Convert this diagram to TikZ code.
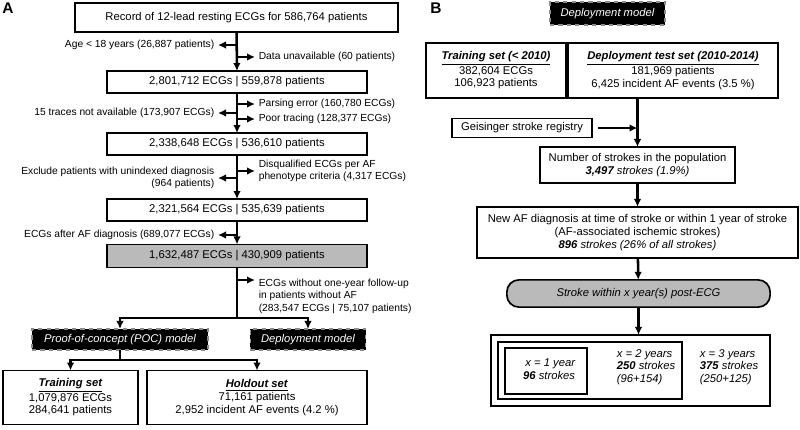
\documentclass[tikz,border=0pt]{standalone}
\usepackage{fontspec}
\setmainfont{Liberation Sans}
\usetikzlibrary{arrows.meta}
\tikzset{
  box/.style={draw, line width=1.2pt, align=center, inner sep=0pt, outer sep=0pt},
  greybox/.style={box, fill=black!27},
  modelbox/.style={fill=black, draw=black!45, dashed, line width=1pt, text=white,
    font=\itshape\fontsize{8}{9}\selectfont, inner sep=0pt, outer sep=0pt},
  note/.style={inner sep=2.5pt, font=\fontsize{7.3}{8.8}\selectfont},
  arr/.style={line width=1.8pt, -{Latex[length=2mm,width=1.9mm]}},
  link/.style={line width=1.8pt},
}
\newcommand{\uhead}[1]{\underline{\textbf{\textit{#1}}}}

\begin{document}
\begin{tikzpicture}[x=0.025cm, y=-0.025cm, font=\fontsize{8}{9}\selectfont]
\useasboundingbox (0,0) rectangle (800,429);

% A
\node[font=\bfseries\fontsize{11}{11}\selectfont] (labA) at (8,8) {A};
\node[box, minimum width=8.08cm, minimum height=0.72cm] (rec) at (236.5,17.5) {Record of 12-lead resting ECGs for 586,764 patients};
\node[box, minimum width=6.5cm, minimum height=0.55cm] (n1) at (237,82) {2,801,712 ECGs | 559,878 patients};
\node[box, minimum width=6.5cm, minimum height=0.55cm] (n2) at (237,144) {2,338,648 ECGs | 536,610 patients};
\node[box, minimum width=6.5cm, minimum height=0.55cm] (n3) at (237,210) {2,321,564 ECGs | 535,639 patients};
\node[greybox, minimum width=6.5cm, minimum height=0.58cm] (n4) at (237,256) {1,632,487 ECGs | 430,909 patients};

\node[note, anchor=east] (lage) at (218,45) {Age < 18 years (26,887 patients)};
\node[note, anchor=west] (lunav) at (255,57) {Data unavailable (60 patients)};
\node[note, anchor=west] (lpars) at (255,104) {Parsing error (160,780 ECGs)};
\node[note, anchor=east] (ltrace) at (218,113) {15 traces not available (173,907 ECGs)};
\node[note, anchor=west] (lpoor) at (255,119) {Poor tracing (128,377 ECGs)};
\node[note, anchor=east, align=right] (lexcl) at (218,178) {Exclude patients with unindexed diagnosis\\(964 patients)};
\node[note, anchor=west, align=left] (ldisq) at (255,171) {Disqualified ECGs per AF\\phenotype criteria (4,317 ECGs)};
\node[note, anchor=east] (lafter) at (218,235) {ECGs after AF diagnosis (689,077 ECGs)};
\node[note, anchor=west, align=left] (lfol) at (255,296) {ECGs without one-year follow-up\\in patients without AF\\(283,547 ECGs | 75,107 patients)};

\draw[arr] (rec) -- (n1);
\draw[arr] (n1) -- (n2);
\draw[arr] (n2) -- (n3);
\draw[arr] (n3) -- (n4);
\draw[arr] (lage -| n1) -- (lage.east);
\draw[arr] (lunav -| n1) -- (lunav.west);
\draw[arr] (lpars -| n1) -- (lpars.west);
\draw[arr] (ltrace -| n1) -- (ltrace.east);
\draw[arr] (lpoor -| n1) -- (lpoor.west);
\draw[arr] (lexcl -| n1) -- (lexcl.east);
\draw[arr] (ldisq -| n1) -- (ldisq.west);
\draw[arr] (lafter -| n1) -- (lafter.east);

\node[modelbox, minimum width=4.4cm, minimum height=0.53cm] (poc) at (120,339.5) {Proof-of-concept (POC) model};
\node[modelbox, minimum width=2.88cm, minimum height=0.53cm] (depA) at (308,339.5) {Deployment model};
\node[box, minimum width=3.38cm, minimum height=1.35cm] (train) at (70.5,397.5) {\uhead{Training set}\\1,079,876 ECGs\\284,641 patients};
\node[box, minimum width=5.5cm, minimum height=1.35cm] (hold) at (257,397.5) {\uhead{Holdout set}\\71,161 patients\\2,952 incident AF events (4.2 \%)};

\coordinate (fol) at (237,280);
\coordinate (s1) at (237,318);
\coordinate (s2) at (120,360);
\draw[arr] (fol) -- (fol -| lfol.west);
\draw[link] (n4) -- (s1);
\draw[arr] (s1) -| (poc);
\draw[arr] (s1) -| (depA);
\draw[link] (poc) -- (s2);
\draw[arr] (s2) -| (train);
\draw[arr] (s2) -| (hold);

% B
\node[font=\bfseries\fontsize{11}{11}\selectfont] (labB) at (436,8) {B};
\node[modelbox, minimum width=2.88cm, minimum height=0.58cm] (depB) at (607.5,13.5) {Deployment model};
\node[box, minimum width=3.5cm, minimum height=1.38cm] (trB) at (496,70.5) {\uhead{Training set (< 2010)}\\382,604 ECGs\\106,923 patients};
\node[box, minimum width=5.25cm, minimum height=1.38cm] (testB) at (673,70.5) {\uhead{Deployment test set (2010-2014)}\\181,969 patients\\6,425 incident AF events (3.5 \%)};
\node[box, minimum width=3.5cm, minimum height=0.48cm] (geis) at (522,128) {Geisinger stroke registry};
\node[box, minimum width=4.88cm, minimum height=0.9cm] (nstr) at (637.5,165) {Number of strokes in the population\\\textit{\textbf{3,497} strokes (1.9\%)}};
\node[box, minimum width=8.03cm, minimum height=1.28cm] (newaf) at (637.5,232.5) {New AF diagnosis at time of stroke or within 1 year of stroke\\(AF-associated ischemic strokes)\\\textit{\textbf{896} strokes (26\% of all strokes)}};
\node[greybox, rounded corners=0.3cm, minimum width=6.58cm, minimum height=0.68cm] (strk) at (638.5,293.5) {\textit{Stroke within x year(s) post-ECG}};
\node[box, minimum width=6.98cm, minimum height=1.78cm] (outer) at (630.5,370.5) {};
\node[box, minimum width=4.6cm, minimum height=1.43cm] (mid) at (590,370.5) {};
\node[box, minimum width=2.05cm, minimum height=1.15cm] (inner) at (546,371) {};
\node[anchor=east, align=right, font=\itshape\fontsize{8}{9}\selectfont] (y1) at (580,369) {x = 1 year\\\textbf{96} strokes};
\node[anchor=west, align=left, font=\itshape\fontsize{8}{9}\selectfont] (y2) at (612,367) {x = 2 years\\\textbf{250} strokes\\(96+154)};
\node[anchor=west, align=left, font=\itshape\fontsize{8}{9}\selectfont] (y3) at (695,367) {x = 3 years\\\textbf{375} strokes\\(250+125)};

\draw[arr] (nstr.north |- testB.south) -- (nstr);
\draw[arr] ([xshift=0.15cm]geis.east) -- (geis -| nstr);
\draw[arr] (nstr) -- (newaf);
\draw[arr] (newaf) -- (strk);
\draw[arr] (strk) -- (strk |- outer.north);
\end{tikzpicture}
\end{document}
